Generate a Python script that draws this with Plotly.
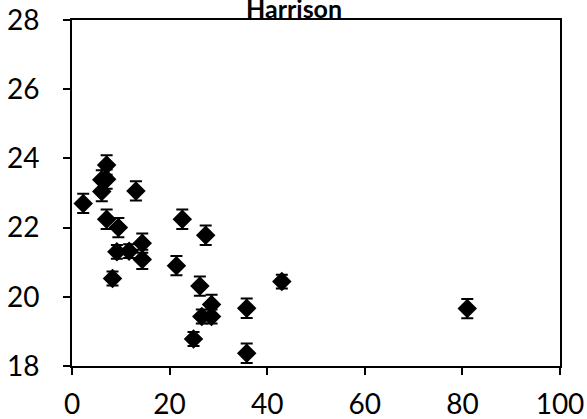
import plotly.graph_objects as go

x_vals = [2.3, 7.1, 6.1, 7.1, 6.1, 13.1, 7.1, 9.5, 22.6, 27.4, 9.2, 11.7, 14.4, 14.4,
          8.3, 21.4, 26.2, 28.6, 26.6, 28.6, 24.9, 35.8, 35.8, 43.0, 81.0]
y_vals = [22.70, 23.81, 23.38, 23.40, 23.04, 23.06, 22.24, 22.00, 22.24, 21.78, 21.30, 21.32,
          21.55, 21.08, 20.53, 20.90, 20.31, 19.78, 19.43, 19.43, 18.78, 19.67, 18.37, 20.44, 19.66]
y_err = [0.28, 0.28, 0.28, 0.28, 0.28, 0.28, 0.28, 0.28, 0.28, 0.28, 0.2, 0.2,
         0.28, 0.28, 0.2, 0.28, 0.28, 0.28, 0.2, 0.2, 0.2, 0.28, 0.28, 0.2, 0.28]

title_text = "Harrison"
x_ticks = [0, 20, 40, 60, 80, 100]
y_ticks = [18, 20, 22, 24, 26, 28]

FONT = "Lato"

fig = go.Figure()
fig.add_trace(go.Scatter(
    x=x_vals, y=y_vals, mode="markers",
    marker=dict(symbol="diamond", size=15, color="black", line=dict(width=0)),
    error_y=dict(type="data", array=y_err, visible=True, color="black", thickness=2, width=6),
    showlegend=False,
))

axis_common = dict(
    showline=True, linecolor="black", linewidth=2, mirror=True,
    ticks="outside", ticklen=7, tickwidth=2, tickcolor="black",
    showgrid=False, zeroline=False, automargin=False,
    tickfont=dict(family=FONT, size=28, color="black"),
)

fig.update_xaxes(range=[0, 100], tickvals=x_ticks, ticklabelstandoff=5, **axis_common)
fig.update_yaxes(range=[18, 28], tickvals=y_ticks, ticklabelstandoff=18, **axis_common)

fig.add_annotation(
    text="<b>" + title_text + "</b>", xref="paper", yref="paper",
    x=(293.5 - 72) / 488, y=1, yanchor="bottom", yshift=-5, showarrow=False,
    font=dict(family=FONT, size=25, color="black"),
)

fig.update_layout(
    width=587, height=419,
    margin=dict(l=72, r=27, t=20, b=53, autoexpand=False),
    paper_bgcolor="white", plot_bgcolor="white",
)

fig.write_html("out.html")
